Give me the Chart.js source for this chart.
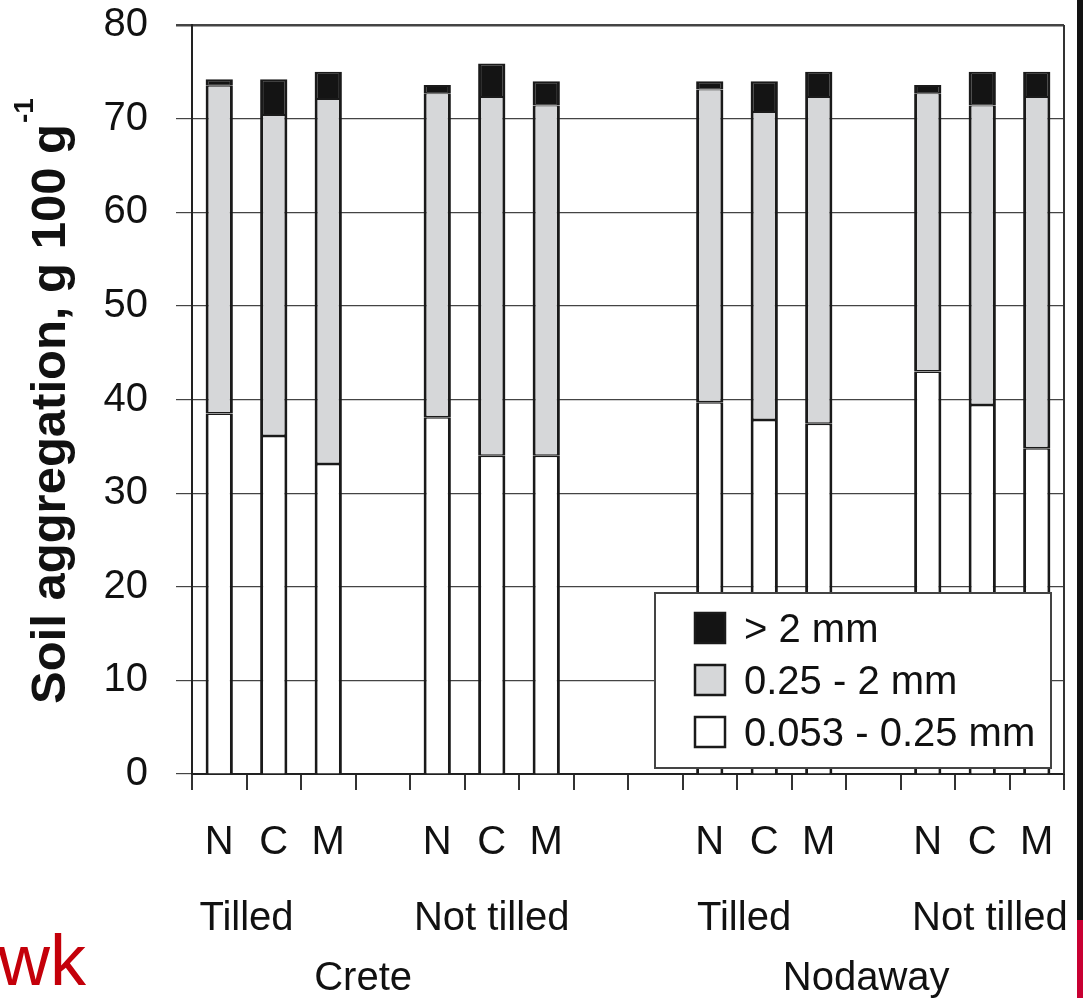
<!DOCTYPE html>
<html>
<head>
<meta charset="utf-8">
<title>Soil aggregation</title>
<script src="https://cdn.jsdelivr.net/npm/chart.js@4/dist/chart.umd.min.js"></script>
<style>
  body { margin: 0; background: #fff; }
  #wrap { position: relative; width: 1083px; height: 998px; overflow: hidden; }
  #wk { position: absolute; left: -2px; top: 924px; font: 72px "Liberation Sans", Arial, sans-serif; line-height: 72px; color: #c4000a; }
  #edge { position: absolute; left: 1077px; top: 0; width: 6px; height: 920px; background: #111; }
  #edge2 { position: absolute; left: 1077px; top: 920px; width: 6px; height: 78px; background: #c80032; }
</style>
</head>
<body>
<div id="wrap">
  <canvas id="chart"></canvas>
  <div id="wk">wk</div>
  <div id="edge"></div>
  <div id="edge2"></div>
</div>
<script>
// treatment under each bar slot (blank slots are the gaps between groups)
var categories = ['N','C','M','','N','C','M','','','N','C','M','','N','C','M'];
// aggregate fractions, g 100 g-1
var fine   = [38.5, 36.1, 33.1, null, 38.1, 34.0, 34.0, null, null, 39.7, 37.8, 37.4, null, 43.0, 39.4, 34.8]; // 0.053 - 0.25 mm
var medium = [35.0, 34.3, 39.0, null, 34.6, 38.3, 37.4, null, null, 33.4, 32.9, 34.9, null, 29.7, 32.0, 37.5]; // 0.25 - 2 mm
var coarse = [0.7, 3.8, 2.9, null, 0.9, 3.6, 2.6, null, null, 0.9, 3.3, 2.7, null, 0.9, 3.6, 2.7];       // > 2 mm
var seriesNames = ['0.053 - 0.25 mm', '0.25 - 2 mm', '> 2 mm'];
// tillage labels, centred on a (fractional) slot index
var tillLabels = ['Tilled', 'Not tilled', 'Tilled', 'Not tilled'];
var tillPos = [0.5, 5, 9.63, 14.14];
// soil labels
var soilLabels = ['Crete', 'Nodaway'];
var soilPos = [2.64, 11.87];

var FONT = '"Liberation Sans", Arial, Helvetica, sans-serif';
var INK = '#1a1a1a';

var yTitle = {
  id: 'yTitle',
  afterDraw: function(chart) {
    var ctx = chart.ctx;
    ctx.save();
    ctx.translate(65, 704);
    ctx.rotate(-Math.PI / 2);
    ctx.fillStyle = '#111';
    ctx.textAlign = 'left';
    ctx.textBaseline = 'alphabetic';
    ctx.font = 'bold 49px ' + FONT;
    var main = 'Soil aggregation, g 100 g';
    ctx.fillText(main, 0, 0);
    var w = ctx.measureText(main).width;
    ctx.font = 'bold 28px ' + FONT;
    ctx.fillText('-1', w + 1, -32);
    ctx.restore();
  }
};

var groupLabels = {
  id: 'groupLabels',
  afterDraw: function(chart) {
    var ctx = chart.ctx, x = chart.scales.x;
    ctx.save();
    ctx.fillStyle = '#111';
    ctx.textAlign = 'center';
    ctx.textBaseline = 'alphabetic';
    ctx.font = '40px ' + FONT;
    tillLabels.forEach(function(t, i) { ctx.fillText(t, x.getPixelForValue(tillPos[i]), 930); });
    soilLabels.forEach(function(t, i) { ctx.fillText(t, x.getPixelForValue(soilPos[i]), 990); });
    ctx.restore();
  }
};

var frame = {
  id: 'frame',
  beforeDatasetsDraw: function(chart) {
    var ctx = chart.ctx, a = chart.chartArea;
    ctx.save();
    ctx.strokeStyle = '#333';
    ctx.lineWidth = 2;
    ctx.beginPath();
    ctx.moveTo(a.right, a.top);
    ctx.lineTo(a.right, a.bottom);
    ctx.stroke();
    ctx.restore();
  }
};

var boxLegend = {
  id: 'boxLegend',
  afterDatasetsDraw: function(chart) {
    var ctx = chart.ctx, a = chart.chartArea;
    var w = 396, h = 175;
    var left = a.right - 13 - w, top = a.bottom - 6 - h;
    ctx.save();
    ctx.fillStyle = '#fff';
    ctx.fillRect(left, top, w, h);
    ctx.strokeStyle = '#444';
    ctx.lineWidth = 2;
    ctx.strokeRect(left, top, w, h);
    var sets = chart.data.datasets.slice().reverse();
    ctx.font = '40px ' + FONT;
    ctx.textAlign = 'left';
    ctx.textBaseline = 'alphabetic';
    sets.forEach(function(ds, i) {
      var cy = top + 35 + i * 52;
      ctx.fillStyle = ds.backgroundColor;
      ctx.fillRect(left + 40, cy - 15, 30, 30);
      ctx.strokeStyle = INK;
      ctx.lineWidth = 2.5;
      ctx.strokeRect(left + 40, cy - 15, 30, 30);
      ctx.fillStyle = '#111';
      ctx.fillText(ds.label, left + 89, cy + 14);
    });
    ctx.restore();
  }
};

new Chart(document.getElementById('chart'), {
  type: 'bar',
  data: {
    labels: categories,
    datasets: [
      { label: seriesNames[0], data: fine, backgroundColor: '#ffffff',
        borderWidth: { top: 1.5, right: 3, bottom: 0, left: 3 } },
      { label: seriesNames[1], data: medium, backgroundColor: '#d6d7d9',
        borderWidth: { top: 1, right: 3, bottom: 1.5, left: 3 } },
      { label: seriesNames[2], data: coarse, backgroundColor: '#141414',
        borderWidth: { top: 2, right: 3, bottom: 1, left: 3 } }
    ]
  },
  options: {
    responsive: true,
    maintainAspectRatio: false,
    animation: false,
    layout: { padding: { top: 25, right: 19, left: 0, bottom: 0 } },
    datasets: { bar: { barPercentage: 0.5, categoryPercentage: 1, borderColor: INK, borderSkipped: false } },
    plugins: { legend: { display: false }, tooltip: { enabled: false } },
    scales: {
      x: {
        stacked: true,
        grid: { offset: true, drawOnChartArea: false, tickLength: 16, color: '#333', lineWidth: 2 },
        border: { color: '#222', width: 2 },
        ticks: { font: { family: FONT, size: 40 }, color: '#111', padding: 29, maxRotation: 0, autoSkip: false },
        afterFit: function(s) { s.height = 224; s.paddingLeft = 0; s.paddingRight = 0; }
      },
      y: {
        stacked: true,
        min: 0, max: 80,
        ticks: { stepSize: 10, font: { family: FONT, size: 40 }, color: '#111', padding: 28 },
        grid: { tickLength: 16, color: '#444', lineWidth: function(c) { return c.tick && c.tick.value === 80 ? 2.5 : 1.2; } },
        border: { color: '#222', width: 2 },
        afterFit: function(s) { s.width = 192; s.paddingTop = 0; s.paddingBottom = 0; }
      }
    }
  },
  plugins: [frame, boxLegend, yTitle, groupLabels]
});
</script>
</body>
</html>
